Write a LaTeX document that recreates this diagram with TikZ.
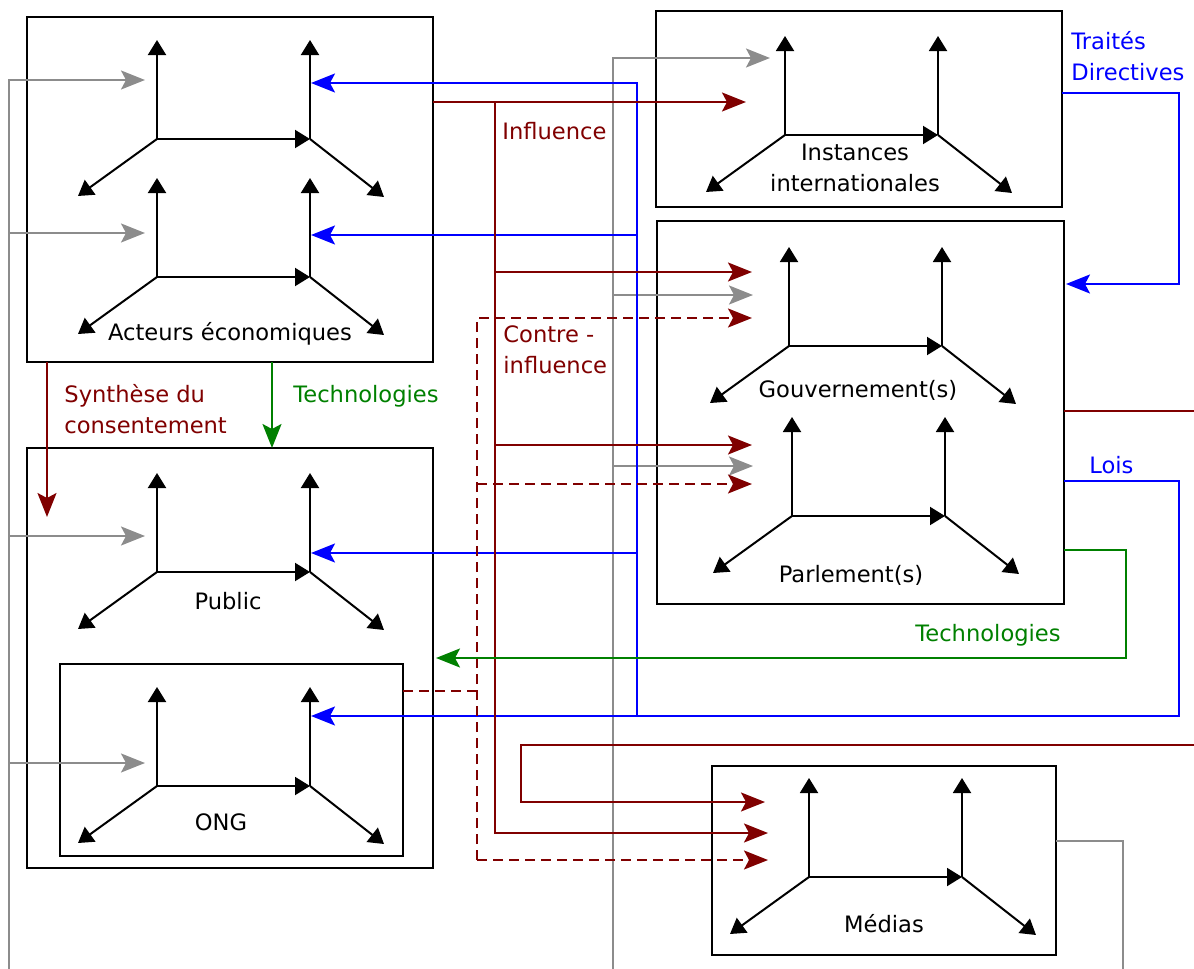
\documentclass[tikz,border=0pt]{standalone}
\usepackage{fontspec}
\setmainfont{DejaVu Sans}
\usetikzlibrary{arrows.meta}
\definecolor{dred}{HTML}{800000}
\definecolor{lgray}{HTML}{8C8C8C}
\definecolor{bblue}{HTML}{0000FF}
\definecolor{ggreen}{HTML}{008000}
\begin{document}
\begin{tikzpicture}[x=0.5pt,y=-0.5pt,
  box/.style={draw=black, line width=1pt, rectangle, inner sep=0pt, outer sep=0pt},
  lbl/.style={font=\fontsize{11.3pt}{15.5pt}\selectfont, inner sep=0pt},
  marr/.style={black, line width=1pt, -{Triangle[length=7.5pt,width=9pt]}},
  ctip/.style={-{Stealth[length=12pt,width=9.5pt,inset=2.5pt]}},
  gline/.style={lgray, line width=0.8pt},
  garr/.style={gline, ctip},
  bline/.style={bblue, line width=1pt},
  barr/.style={bline, ctip},
  rline/.style={dred, line width=1pt},
  rarr/.style={rline, ctip},
  rdash/.style={dred, line width=1pt, dash pattern=on 5pt off 3pt},
  rdarr/.style={rdash, ctip},
  gnline/.style={ggreen, line width=1pt},
  gnarr/.style={gnline, ctip},
  motif/.pic={
    \draw[marr] (0,0) -- (0,-99);
    \draw[marr] (0,0) -- (153,0);
    \draw[marr] (153,0) -- (153,-99);
    \draw[marr] (0,0) -- (-79,57);
    \draw[marr] (153,0) -- (227,58);
  }]
\useasboundingbox (0,0) rectangle (1194,969);
\fill[white] (0,0) rectangle (1194,969);

% boxes
\node[box, minimum width=203pt, minimum height=172.5pt] (acteurs) at (230,189.5) {};
\node[box, minimum width=203pt, minimum height=210pt] (public) at (230,658) {};
\node[box, minimum width=171.5pt, minimum height=96pt] (ong) at (231.5,760) {};
\node[box, minimum width=203pt, minimum height=98pt] (instances) at (859,109) {};
\node[box, minimum width=203.5pt, minimum height=191.5pt] (gouv) at (860.5,412.5) {};
\node[box, minimum width=172pt, minimum height=94.5pt] (medias) at (884,860.5) {};

% ---------- gray connectors
\coordinate (gA) at (9,969);
\coordinate (gA1) at (9,233);
\coordinate (gA2) at (9,536);
\coordinate (gA3) at (9,763);
\coordinate (gT0) at (145,80);
\coordinate (gT1) at (145,233);
\coordinate (gT2) at (145,536);
\coordinate (gT3) at (145,763);
\draw[garr] (gA) |- (gT0);
\draw[garr] (gA1) -- (gT1);
\draw[garr] (gA2) -- (gT2);
\draw[garr] (gA3) -- (gT3);
\coordinate (gB) at (613,969);
\coordinate (gB1) at (613,295);
\coordinate (gB2) at (613,466);
\coordinate (gU0) at (770,58);
\coordinate (gU1) at (753,295);
\coordinate (gU2) at (753,466);
\draw[garr] (gB) |- (gU0);
\draw[garr] (gB1) -- (gU1);
\draw[garr] (gB2) -- (gU2);
\coordinate (gM1) at (1123,969);
\draw[gline] ([yshift=-37.5pt]medias.north east) -| (gM1);

% ---------- blue connectors
\coordinate (bC) at (1179,716);
\coordinate (bJ) at (637,716);
\coordinate (bJ1) at (637,235);
\coordinate (bJ2) at (637,553);
\coordinate (bT0) at (311,83);
\coordinate (bT1) at (311,235);
\coordinate (bT2) at (311,553);
\coordinate (bT3) at (311,716);
\draw[barr] ([yshift=-130pt]gouv.north east) -| (bC) -- (bT3);
\draw[barr] (bJ) |- (bT0);
\draw[barr] (bJ1) -- (bT1);
\draw[barr] (bJ2) -- (bT2);
\coordinate (tD) at (1179,284);
\draw[barr] ([yshift=-41pt]instances.north east) -| (tD) -- ([yshift=-31.5pt,xshift=1pt]gouv.north east);

% ---------- dark red connectors
\coordinate (rI) at (746,102);
\coordinate (rV) at (495,102);
\coordinate (rV1) at (495,272);
\coordinate (rV2) at (495,445);
\coordinate (rT1) at (752,272);
\coordinate (rT2) at (752,445);
\coordinate (rT3) at (768,833);
\draw[rarr] ([yshift=-42.5pt]acteurs.north east) -- (rI);
\draw[rarr] (rV) |- (rT3);
\draw[rarr] (rV1) -- (rT1);
\draw[rarr] (rV2) -- (rT2);
% dashed counter-influence
\coordinate (dT0) at (752,318);
\coordinate (dV) at (477,860);
\coordinate (dJ) at (477,691);
\coordinate (dV1) at (477,484);
\coordinate (dT1) at (752,484);
\coordinate (dT2) at (768,860);
\draw[rdarr] (dV) |- (dT0);
\draw[rdarr] (dV) -- (dT2);
\draw[rdarr] (dV1) -- (dT1);
\draw[rdash] ([yshift=-13.5pt]ong.north east) -- (dJ);
% right side red
\coordinate (rR) at (1194,411);
\draw[rline] ([yshift=-95pt]gouv.north east) -- (rR);
\coordinate (rR0) at (1194,745);
\coordinate (rR1) at (521,802);
\coordinate (rT4) at (765,802);
\draw[rarr] (rR0) -| (rR1) -- (rT4);
% synthese
\coordinate (sT) at (47,517);
\draw[rarr] ([xshift=10pt]acteurs.south west) -- (sT);

% ---------- green connectors
\draw[gnarr] ([xshift=21pt]acteurs.south) -- ([xshift=21pt]public.north);
\coordinate (gnC) at (1126,658);
\draw[gnarr] ([yshift=-164.5pt]gouv.north east) -| (gnC) -- ([xshift=1.5pt]public.east);

% ---------- motifs
\pic at (157,139) {motif};
\pic at (157,277) {motif};
\pic at (157,572) {motif};
\pic at (157,786) {motif};
\pic at (785,135) {motif};
\pic at (789,346) {motif};
\pic at (792,516) {motif};
\pic at (809,877) {motif};

% ---------- box labels
\node[lbl] (lActeurs) at (230,334) {Acteurs économiques};
\node[lbl] (lPublic) at (228,601) {Public};
\node[lbl] (lOng) at (221,822) {ONG};
\node[lbl, align=center] (lInst) at (855,168) {Instances\\internationales};
\node[lbl] (lGouv) at (858,390) {Gouvernement(s)};
\node[lbl] (lParl) at (851,575) {Parlement(s)};
\node[lbl] (lMedias) at (884,924) {Médias};

% ---------- connector labels
\node[lbl, text=dred, anchor=west] (lInfl) at (502,131) {Influence};
\node[lbl, text=dred, anchor=west, align=left] (lContre) at (503,350) {Contre -\\influence};
\node[lbl, text=dred, anchor=west, align=left] (lSynth) at (64,409) {Synthèse du\\consentement};
\node[lbl, text=ggreen, anchor=west] (lTech1) at (293,396) {Technologies};
\node[lbl, text=ggreen, anchor=west] (lTech2) at (915,635) {Technologies};
\node[lbl, text=bblue, anchor=west, align=left] (lTraites) at (1071,56) {Traités\\Directives};
\node[lbl, text=bblue, anchor=west] (lLois) at (1089,465) {Lois};
\end{tikzpicture}
\end{document}
